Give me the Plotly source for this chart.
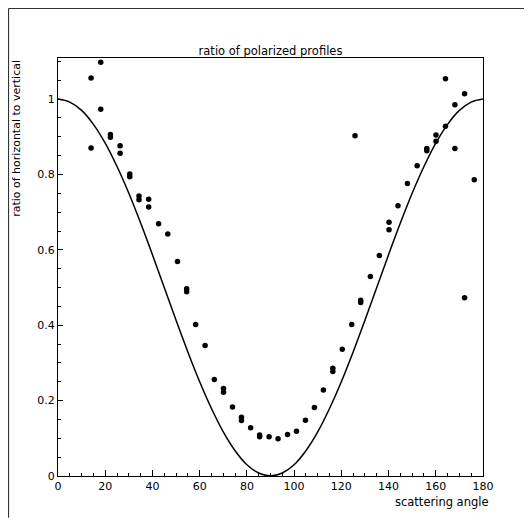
import plotly.graph_objects as go

# measured ratio of horizontal to vertical polarized profiles
angle = [14.0, 14.0, 18.1, 18.1, 22.2, 22.2, 26.3, 26.3, 30.4, 30.4,
         34.3, 34.3, 38.4, 38.4, 42.6, 46.5, 50.6, 54.5, 54.5, 58.3,
         62.3, 66.2, 70.1, 70.1, 73.9, 77.7, 77.7, 81.6, 85.4, 85.4,
         89.4, 93.2, 97.2, 101.0, 104.8, 108.6, 112.4, 116.4, 116.4, 120.4,
         124.4, 125.8, 128.2, 128.2, 132.3, 136.1, 140.2, 140.2, 144.0, 148.0,
         152.1, 156.2, 156.2, 160.1, 160.1, 164.1, 164.1, 168.1, 168.1, 172.2,
         172.2, 176.3]
ratio = [1.056, 0.870, 1.098, 0.973, 0.906, 0.899, 0.876, 0.856, 0.801, 0.794,
         0.743, 0.733, 0.734, 0.714, 0.669, 0.642, 0.569, 0.497, 0.489, 0.402,
         0.346, 0.256, 0.232, 0.222, 0.183, 0.156, 0.147, 0.128, 0.109, 0.104,
         0.104, 0.099, 0.110, 0.119, 0.148, 0.182, 0.228, 0.286, 0.277, 0.336,
         0.402, 0.903, 0.466, 0.460, 0.529, 0.585, 0.673, 0.653, 0.717, 0.776,
         0.823, 0.869, 0.863, 0.905, 0.888, 1.054, 0.928, 0.985, 0.869, 1.014,
         0.473, 0.786]

# theoretical curve
curve_angle = [0, 5, 10, 15, 20, 25, 30, 35, 40, 45, 50, 55, 60, 65, 70, 75, 80, 85, 90,
               95, 100, 105, 110, 115, 120, 125, 130, 135, 140, 145, 150, 155, 160, 165,
               170, 175, 180]
curve_ratio = [1.0, 0.992, 0.970, 0.933, 0.883, 0.821, 0.750, 0.671, 0.587, 0.500,
               0.413, 0.329, 0.250, 0.179, 0.117, 0.067, 0.030, 0.008, 0.0,
               0.008, 0.030, 0.067, 0.117, 0.179, 0.250, 0.329, 0.413, 0.500, 0.587,
               0.671, 0.750, 0.821, 0.883, 0.933, 0.970, 0.992, 1.0]

x_ticks = [0, 20, 40, 60, 80, 100, 120, 140, 160, 180]
y_ticks = [0, 0.2, 0.4, 0.6, 0.8, 1]
y_tick_text = ["0", "0.2", "0.4", "0.6", "0.8", "1"]

FONT = "DejaVu Sans"

fig = go.Figure()
fig.add_trace(go.Scatter(x=curve_angle, y=curve_ratio, mode="lines",
                         line=dict(color="black", width=1.5, shape="spline"),
                         hoverinfo="skip", showlegend=False))
fig.add_trace(go.Scatter(x=angle, y=ratio, mode="markers",
                         marker=dict(color="black", size=5.5),
                         showlegend=False))

axis_common = dict(showgrid=False, zeroline=False, showline=True, linecolor="black",
                   linewidth=1.2, mirror=True, ticks="inside", tickcolor="black",
                   tickfont=dict(family=FONT, size=11, color="black"))

fig.update_xaxes(range=[0, 180], tickvals=x_ticks, ticklen=6, tickwidth=1,
                 minor=dict(dtick=5, ticks="inside", ticklen=3, tickcolor="black"),
                 **axis_common)
fig.update_yaxes(range=[0, 1.109], tickvals=y_ticks, ticktext=y_tick_text,
                 ticklen=5, tickwidth=1,
                 minor=dict(dtick=0.05, ticks="inside", ticklen=3, tickcolor="black"),
                 **axis_common)

# the page body has an 8px margin, so the figure is sized/placed to compensate
fig.update_layout(
    width=516, height=510,
    margin=dict(l=50, r=41, t=50, b=42),
    paper_bgcolor="white", plot_bgcolor="white",
    title=dict(text="ratio of polarized profiles", x=0.5, xref="paper",
               y=1 - 43 / 510, yref="container", xanchor="center", yanchor="middle",
               font=dict(family=FONT, size=11.5, color="black")),
    annotations=[
        dict(text="scattering angle", xref="paper", yref="paper", x=1.019, y=-0.062,
             xanchor="right", yanchor="middle", showarrow=False,
             font=dict(family=FONT, size=11.5, color="black")),
        dict(text="ratio of horizontal to vertical", xref="paper", yref="paper",
             x=-0.098, y=1.0, xanchor="center", yanchor="top", textangle=-90,
             showarrow=False, font=dict(family=FONT, size=11, color="black")),
    ],
    shapes=[
        dict(type="line", xref="paper", yref="paper", x0=-0.1165, x1=-0.1165,
             y0=-0.100, y1=1.1186, line=dict(color="#333", width=1.2)),
        dict(type="line", xref="paper", yref="paper", x0=-0.1165, x1=1.25,
             y0=1.1186, y1=1.1186, line=dict(color="#333", width=1.2)),
    ],
)

fig.write_html("out.html")
